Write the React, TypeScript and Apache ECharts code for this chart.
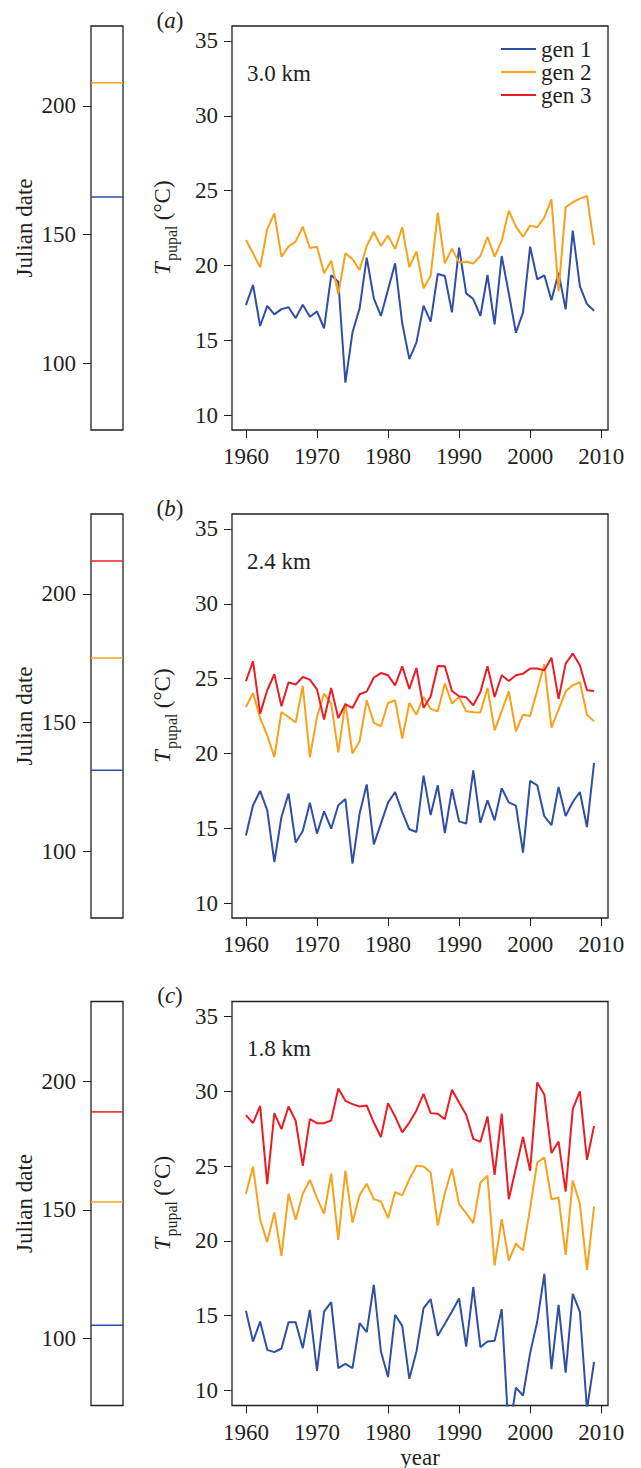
import React, { useEffect, useRef } from "react";
import * as echarts from "echarts";

const years = [
  1960, 1961, 1962, 1963, 1964, 1965, 1966, 1967, 1968, 1969,
  1970, 1971, 1972, 1973, 1974, 1975, 1976, 1977, 1978, 1979,
  1980, 1981, 1982, 1983, 1984, 1985, 1986, 1987, 1988, 1989,
  1990, 1991, 1992, 1993, 1994, 1995, 1996, 1997, 1998, 1999,
  2000, 2001, 2002, 2003, 2004, 2005, 2006, 2007, 2008, 2009,
];
const yearTicks = [1960, 1970, 1980, 1990, 2000, 2010];
const tempTicks = [10, 15, 20, 25, 30, 35];
const julianTicks = [100, 150, 200];
const genNames = ["gen 1", "gen 2", "gen 3"];

// panel (a) 3.0 km
const gen1A = [17.35, 18.69, 15.95, 17.3, 16.73, 17.08, 17.2, 16.48, 17.37, 16.57,
  16.93, 15.8, 19.34, 18.91, 12.16, 15.53, 17.13, 20.52, 17.8, 16.62,
  18.38, 20.14, 16.13, 13.74, 14.86, 17.31, 16.24, 19.43, 19.29, 16.86,
  21.19, 18.13, 17.75, 16.62, 19.36, 16.06, 20.63, 18.13, 15.5, 16.86,
  21.25, 19.07, 19.34, 17.67, 19.51, 17.06, 22.32, 18.62, 17.42, 16.97];
const gen2A = [21.7, 20.81, 19.87, 22.43, 23.48, 20.58, 21.27, 21.59, 22.59, 21.16,
  21.25, 19.47, 20.31, 18.09, 20.81, 20.41, 19.69, 21.3, 22.23, 21.3,
  21.99, 21.1, 22.55, 19.87, 20.94, 18.47, 19.31, 23.52, 20.14, 21.12,
  20.2, 20.25, 20.12, 20.63, 21.9, 20.58, 21.65, 23.66, 22.59, 21.92,
  22.66, 22.55, 23.19, 24.42, 18.27, 23.88, 24.22, 24.46, 24.64, 21.36];

// panel (b) 2.4 km
const gen1B = [14.52, 16.53, 17.49, 16.2, 12.74, 15.75, 17.31, 14.04, 14.81, 16.71,
  14.64, 16.13, 14.97, 16.53, 16.95, 12.63, 15.98, 17.93, 13.92, 15.31,
  16.71, 17.42, 16.08, 14.93, 14.75, 18.52, 15.88, 17.87, 14.68, 17.6,
  15.46, 15.31, 18.87, 15.35, 16.87, 15.53, 17.67, 16.73, 16.51, 13.37,
  18.16, 17.87, 15.8, 15.2, 17.76, 15.82, 16.75, 17.42, 15.08, 19.36];
const gen2B = [23.1, 24.04, 22.37, 21.21, 19.76, 22.77, 22.43, 22.06, 24.51, 19.74,
  22.43, 24.0, 23.33, 20.07, 23.37, 19.99, 20.81, 23.55, 22.06, 21.81,
  23.37, 23.55, 20.99, 23.37, 22.59, 23.77, 22.98, 22.81, 24.67, 23.33,
  23.77, 22.81, 22.75, 22.73, 24.37, 21.54, 22.83, 24.15, 21.48, 22.59,
  22.5, 24.22, 25.96, 21.72, 22.93, 24.15, 24.55, 24.77, 22.59, 22.14];
const gen3B = [24.82, 26.16, 22.66, 24.22, 25.29, 23.15, 24.75, 24.6, 25.11, 24.93,
  24.28, 22.26, 24.37, 22.37, 23.28, 23.04, 23.95, 24.13, 25.07, 25.37,
  25.22, 24.55, 25.82, 24.31, 25.71, 23.04, 23.8, 25.84, 25.82, 24.17,
  23.82, 23.75, 23.22, 24.11, 25.82, 23.77, 25.22, 24.84, 25.22, 25.33,
  25.67, 25.67, 25.55, 26.4, 23.64, 26.0, 26.67, 25.89, 24.22, 24.17];

// panel (c) 1.8 km
const gen1C = [15.33, 13.28, 14.61, 12.72, 12.57, 12.81, 14.57, 14.57, 12.83, 15.39,
  11.32, 15.28, 15.91, 11.5, 11.78, 11.5, 14.5, 13.9, 17.07, 12.61,
  10.9, 15.06, 14.32, 10.78, 12.61, 15.51, 16.11, 13.66, 14.46, 15.28,
  16.15, 12.94, 16.91, 12.9, 13.28, 13.32, 15.44, 7.05, 10.2, 9.67,
  12.5, 14.61, 17.8, 11.43, 15.73, 11.2, 16.46, 15.28, 8.75, 11.92];
const gen2C = [23.15, 24.97, 21.41, 19.92, 21.9, 19.0, 23.15, 21.41, 23.15, 24.08,
  22.86, 21.81, 24.49, 20.07, 24.69, 21.23, 23.06, 23.82, 22.79, 22.63,
  21.52, 23.26, 23.04, 24.13, 25.02, 24.97, 24.57, 21.03, 23.19, 24.82,
  22.46, 21.86, 21.19, 23.9, 24.35, 18.36, 21.46, 18.69, 19.81, 19.36,
  22.19, 25.24, 25.58, 22.79, 22.9, 19.07, 24.04, 22.48, 18.07, 22.3];
const gen3C = [28.41, 27.87, 29.03, 23.8, 28.54, 27.47, 28.98, 28.03, 25.02, 28.14,
  27.87, 27.87, 28.05, 30.19, 29.36, 29.14, 28.98, 29.05, 27.91, 26.94,
  29.21, 28.32, 27.25, 27.91, 28.72, 29.83, 28.54, 28.5, 28.14, 30.1,
  29.25, 28.43, 26.82, 26.62, 28.32, 24.42, 28.5, 22.79, 24.87, 26.94,
  24.69, 30.59, 29.77, 25.87, 26.64, 23.3, 28.81, 29.99, 25.42, 27.69];

// mean Julian dates per generation (gen1, gen2, gen3)
const julianA = [164.5, 208.9, null];
const julianB = [131.4, 175.0, 212.7];
const julianC = [105.2, 153.1, 188.1];

const panelLetters = ["a", "b", "c"];
const elevations = ["3.0 km", "2.4 km", "1.8 km"];

const COLORS = ["#2e4fa3", "#f8a11b", "#ea1c24"];
const FONT = "'Liberation Serif', 'Times New Roman', Times, 'DejaVu Serif', serif";
const INK = "#231f20";
const FS = 23;

export default function App() {
  const ref = useRef<HTMLDivElement>(null);

  useEffect(() => {
    document.body.style.margin = "0";
    if (!ref.current) return;
    const chart = echarts.init(ref.current, null, { renderer: "svg" });

    const panelSeries = [
      [gen1A, gen2A, null],
      [gen1B, gen2B, gen3B],
      [gen1C, gen2C, gen3C],
    ];
    const panelJulian = [julianA, julianB, julianC];
    const tops = [26, 514, 1001.5];
    const H = 404;

    const grids: any[] = [];
    const xAxes: any[] = [];
    const yAxes: any[] = [];
    const series: any[] = [];
    const graphics: any[] = [];

    const tickStyle = { show: true, length: 8, lineStyle: { color: INK, width: 1 } };
    const labelStyle = { color: INK, fontFamily: FONT, fontSize: FS, formatter: (v: number) => String(v) };

    // main plots
    tops.forEach((top, i) => {
      grids.push({
        left: 232, width: 376, top, height: H,
        show: true, borderColor: INK, borderWidth: 1.3, backgroundColor: "transparent",
      });
      xAxes.push({
        type: "value", gridIndex: i, min: 1958.04, max: 2010.96,
        splitLine: { show: false }, axisLine: { show: false },
        axisTick: { ...tickStyle, customValues: yearTicks },
        axisLabel: { ...labelStyle, margin: 15, customValues: yearTicks },
      });
      yAxes.push({
        type: "value", gridIndex: i, min: 9, max: 36,
        splitLine: { show: false }, axisLine: { show: false },
        axisTick: { ...tickStyle, customValues: tempTicks },
        axisLabel: { ...labelStyle, margin: 14, customValues: tempTicks },
      });
    });
    // julian strips
    tops.forEach((top, i) => {
      grids.push({
        left: 91, width: 32, top, height: H,
        show: true, borderColor: INK, borderWidth: 1.3, backgroundColor: "transparent",
      });
      xAxes.push({
        type: "value", gridIndex: 3 + i, min: 0, max: 1, show: false,
      });
      yAxes.push({
        type: "value", gridIndex: 3 + i, min: 74, max: 231,
        splitLine: { show: false }, axisLine: { show: false },
        axisTick: { ...tickStyle, customValues: julianTicks },
        axisLabel: { ...labelStyle, margin: 15, customValues: julianTicks },
      });
    });

    panelSeries.forEach((gens, i) => {
      gens.forEach((vals, g) => {
        if (!vals) return;
        series.push({
          type: "line", name: genNames[g], xAxisIndex: i, yAxisIndex: i,
          data: years.map((y, k) => [y, vals[k]]),
          symbol: "none", showSymbol: false, clip: true,
          lineStyle: { color: COLORS[g], width: 2 }, itemStyle: { color: COLORS[g] },
          z: 2 + g,
        });
      });
      panelJulian[i].forEach((d, g) => {
        if (d == null) return;
        series.push({
          type: "line", name: genNames[g], xAxisIndex: 3 + i, yAxisIndex: 3 + i,
          data: [[0, d], [1, d]], symbol: "none", showSymbol: false,
          lineStyle: { color: COLORS[g], width: 1.5 }, itemStyle: { color: COLORS[g] },
          silent: true,
        });
      });

      const top = tops[i];
      const mid = top + H / 2;
      graphics.push({
        type: "text", x: 170, y: top - 6,
        style: {
          text: "({i|" + panelLetters[i] + "})",
          fontFamily: FONT, fontSize: FS, fill: INK, align: "center", verticalAlign: "middle",
          rich: { i: { fontFamily: FONT, fontSize: FS, fontStyle: "italic", fill: INK } },
        },
      });
      graphics.push({
        type: "text", x: 247, y: top + 47,
        style: { text: elevations[i], fontFamily: FONT, fontSize: FS, fill: INK, align: "left", verticalAlign: "middle" },
      });
      graphics.push({
        type: "text", x: 24, y: mid, rotation: Math.PI / 2,
        style: { text: "Julian date", fontFamily: FONT, fontSize: FS, fill: INK, align: "center", verticalAlign: "middle" },
      });
      graphics.push({
        type: "group", x: 166, y: mid, rotation: Math.PI / 2,
        children: [
          { type: "text", x: -47, y: 8, style: { text: "T", fontFamily: FONT, fontSize: FS, fontStyle: "italic", fill: INK, align: "left", verticalAlign: "bottom" } },
          { type: "text", x: -33, y: 13, style: { text: "pupal", fontFamily: FONT, fontSize: 16, fill: INK, align: "left", verticalAlign: "bottom" } },
          { type: "text", x: 2, y: 8, style: { text: " (°C)", fontFamily: FONT, fontSize: FS, fill: INK, align: "left", verticalAlign: "bottom" } },
        ],
      });
    });

    graphics.push({
      type: "text", x: 420, y: 1457,
      style: { text: "year", fontFamily: FONT, fontSize: FS, fill: INK, align: "center", verticalAlign: "middle" },
    });

    chart.setOption({
      animation: false,
      backgroundColor: "#ffffff",
      grid: grids,
      xAxis: xAxes,
      yAxis: yAxes,
      series,
      legend: {
        data: genNames, orient: "vertical", left: 501, top: 37.5,
        itemWidth: 35, itemHeight: 2, itemGap: 0, icon: "rect", selectedMode: false,
        padding: 0,
        textStyle: { color: INK, fontFamily: FONT, fontSize: FS, lineHeight: 23 },
      },
      graphic: graphics,
    });

    return () => chart.dispose();
  }, []);

  return <div ref={ref} style={{ width: 641, height: 1468 }} />;
}
